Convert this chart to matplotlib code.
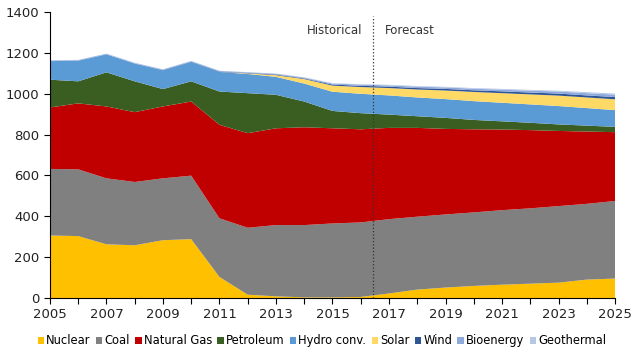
import matplotlib
matplotlib.use("Agg")
import matplotlib.pyplot as plt
import numpy as np

# Electricity generation by source, stacked (historical + forecast)
years = np.arange(2005, 2026)
nuclear = [306, 303, 263, 258, 283, 288, 103, 16, 8, 3, 3, 5, 22, 41, 51, 59, 65, 70, 75, 90, 95]
coal = [326, 327, 323, 310, 303, 311, 287, 328, 349, 354, 362, 365, 364, 357, 358, 360, 365, 369, 375, 371, 380]
natural_gas = [301, 323, 352, 342, 352, 363, 458, 463, 474, 479, 466, 456, 447, 435, 419, 407, 395, 383, 368, 354, 337]
petroleum = [136, 108, 167, 151, 85, 99, 163, 196, 164, 126, 85, 79, 65, 57, 54, 46, 40, 36, 32, 29, 26]
hydro = [91, 101, 88, 87, 92, 95, 96, 94, 88, 88, 94, 95, 94, 92, 92, 92, 91, 90, 90, 86, 82]
solar = [0, 0, 0, 0, 0, 0, 0, 3, 8, 22, 30, 33, 36, 39, 42, 45, 47, 49, 51, 52, 53]
wind = [0, 0, 0, 0, 1, 1, 2, 2, 3, 3, 5, 6, 7, 7, 8, 8, 9, 9, 10, 10, 11]
bioenergy = [3, 3, 3, 3, 3, 3, 3, 3, 4, 4, 5, 6, 6, 7, 7, 8, 8, 9, 10, 11, 12]
geothermal = [1, 1, 1, 1, 1, 1, 1, 1, 1, 2, 2, 2, 3, 3, 3, 3, 4, 4, 4, 5, 5]

labels = ["Nuclear", "Coal", "Natural Gas", "Petroleum", "Hydro conv.",
          "Solar", "Wind", "Bioenergy", "Geothermal"]
colors = ["#FFC000", "#808080", "#C00000", "#3A5E22", "#5B9BD5",
          "#FFD966", "#2F5597", "#8EA9DB", "#B4C7E7"]
split_year = 2016.45

fig = plt.figure(figsize=(6.4, 3.56), dpi=100)
ax = fig.add_axes([0.078, 0.163, 0.883, 0.803])

ax.stackplot(years, nuclear, coal, natural_gas, petroleum, hydro, solar,
             wind, bioenergy, geothermal, labels=labels, colors=colors,
             linewidth=0)

ax.axvline(split_year, color="#333333", linestyle=":", linewidth=0.9, ymax=0.985)
ax.text(split_year - 0.4, 1310, "Historical", ha="right", va="center",
        fontsize=8.5, color="#333333")
ax.text(split_year + 0.4, 1310, "Forecast", ha="left", va="center",
        fontsize=8.5, color="#333333")

ax.set_xlim(2005, 2025)
ax.set_ylim(0, 1400)
ax.set_xticks(years)
ax.set_xticklabels([str(y) if (y - 2005) % 2 == 0 else "" for y in years])
ax.set_yticks(np.arange(0, 1401, 200))
ax.tick_params(axis="both", direction="out", length=4, width=0.8,
               labelsize=9.5, colors="black", labelcolor="#222222")
for side in ["top", "right"]:
    ax.spines[side].set_visible(False)
for side in ["left", "bottom"]:
    ax.spines[side].set_linewidth(0.8)

fig.legend(*ax.get_legend_handles_labels(), loc="lower center",
           bbox_to_anchor=(0.503, -0.005), ncol=9, frameon=False,
           fontsize=8.3, handlelength=0.55, handleheight=0.55,
           handletextpad=0.2, columnspacing=0.45)

fig.savefig("out.png", dpi=100)
